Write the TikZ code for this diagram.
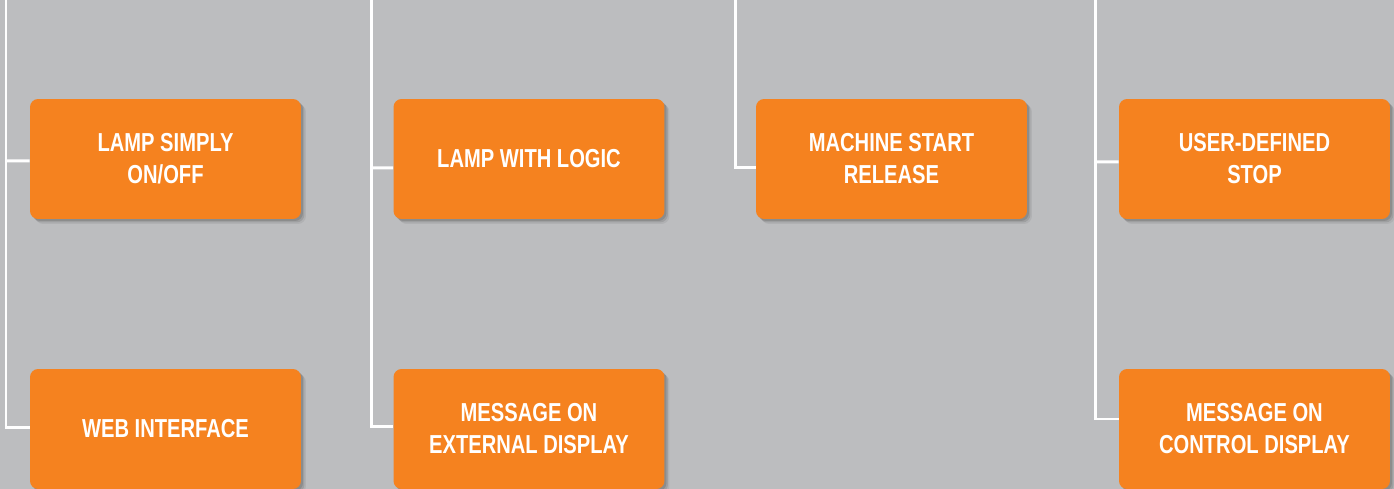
\documentclass[tikz,border=0pt]{standalone}
\usepackage{fontspec}
\setmainfont{Liberation Sans}[FakeStretch=0.775]
\usetikzlibrary{positioning,shadows}
\definecolor{panelgray}{RGB}{188,189,191}
\definecolor{signalorange}{RGB}{245,130,31}

\begin{document}
\begin{tikzpicture}[x=0.02cm,y=-0.02cm,
    softshade/.style={
      general shadow={shadow xshift=0.04cm,shadow yshift=-0.04cm,opacity=0.12,fill=black},
      general shadow={shadow xshift=0.07cm,shadow yshift=-0.07cm,opacity=0.1,fill=black},
      general shadow={shadow xshift=0.10cm,shadow yshift=-0.10cm,opacity=0.06,fill=black}},
    optbox/.style={fill=signalorange,rounded corners=0.16cm,softshade,
      minimum width=5.42cm,minimum height=2.4cm,align=center,text=white,
      font=\bfseries\fontsize{14.8}{18.2}\selectfont},
    wire/.style={white,line width=0.06cm}]
    % panel
    \fill[panelgray] (0,0) rectangle (1394,489);
    \useasboundingbox (0,0) rectangle (1394,489);
    % bus lines from above
    \coordinate (bus1) at (6,0);
    \coordinate (bus2) at (371,0);
    \coordinate (bus3) at (735,0);
    \coordinate (bus4) at (1095,0);
    % option boxes
    \node[optbox] (lampsimple) at (165.5,159) {LAMP SIMPLY\\ON/OFF};
    \node[optbox] (webiface) at (165.5,429) {WEB INTERFACE};
    \node[optbox] (lamplogic) at (529,159) {LAMP WITH LOGIC};
    \node[optbox] (msgext) at (529,429) {MESSAGE ON\\EXTERNAL DISPLAY};
    \node[optbox] (machstart) at (891.5,159) {MACHINE START\\RELEASE};
    \node[optbox] (userstop) at (1254.5,159) {USER-DEFINED\\STOP};
    \node[optbox] (msgctrl) at (1254.5,429) {MESSAGE ON\\CONTROL DISPLAY};
    % connectors
    \draw[wire] (bus1) |- ([yshift=0.02cm]webiface.west);
    \draw[wire] (bus1 |- lampsimple.west) ++(0,2) -- ([yshift=-0.04cm]lampsimple.west);
    \draw[wire] (bus2) |- ([yshift=0.04cm]msgext.west);
    \draw[wire] (bus2 |- lamplogic.west) ++(0,9) -- ([yshift=-0.18cm]lamplogic.west);
    \draw[wire] (bus3) |- ([yshift=-0.18cm]machstart.west);
    \draw[wire] (bus4) |- ([yshift=0.2cm]msgctrl.west);
    \draw[wire] (bus4 |- userstop.west) ++(0,3) -- ([yshift=-0.06cm]userstop.west);
\end{tikzpicture}
\end{document}
